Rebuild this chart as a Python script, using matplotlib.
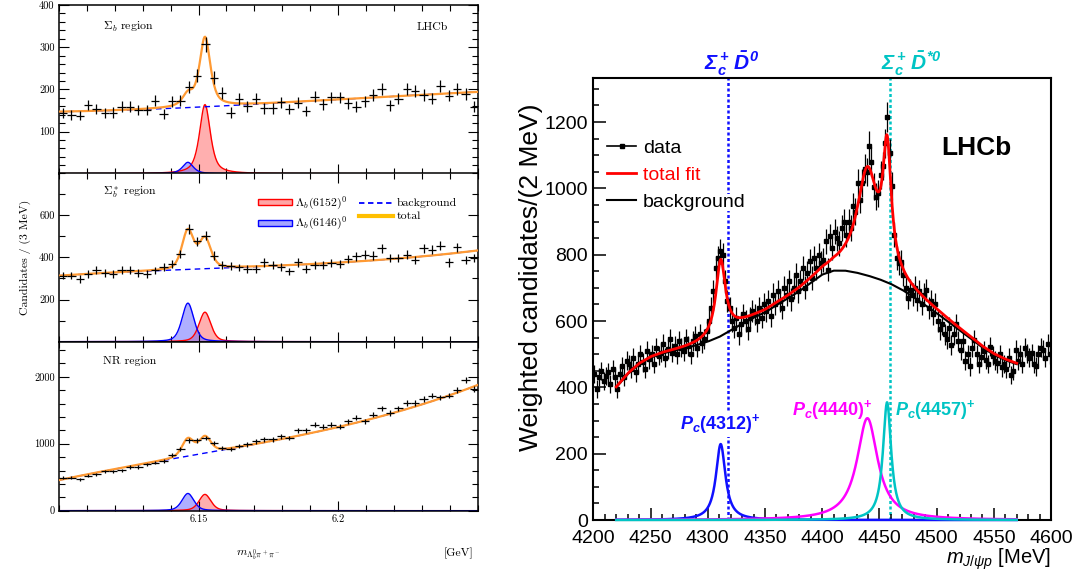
import numpy as np
import matplotlib
matplotlib.use("Agg")
import matplotlib.pyplot as plt
from matplotlib.ticker import MultipleLocator
from matplotlib.lines import Line2D
from matplotlib.patches import Patch
from matplotlib.font_manager import FontProperties

plt.rcParams.update({
    'mathtext.fontset': 'custom',
    'mathtext.rm': 'Liberation Sans',
    'mathtext.it': 'Liberation Sans:italic',
    'mathtext.bf': 'Liberation Sans:bold',
    'mathtext.bfit': 'Liberation Sans:italic:bold',
    'font.family': 'Liberation Sans',
})

# ---------------- left figure data (3 MeV bins, 6.10 - 6.25 GeV) ----------------
sigb_counts = [143, 139, 138, 163, 154, 143, 145, 159, 159, 151, 151, 173, 141, 172, 173,
               205, 232, 307, 228, 192, 145, 177, 160, 178, 155, 155, 170, 153, 168, 149,
               183, 165, 181, 181, 167, 159, 172, 187, 200, 162, 178, 201, 197, 187, 178,
               208, 185, 202, 189, 159]
sigbs_counts = [313, 313, 297, 321, 341, 325, 321, 341, 341, 325, 321, 338, 354, 368, 416,
                535, 476, 503, 408, 365, 357, 352, 346, 344, 376, 362, 354, 333, 376, 346,
                365, 365, 373, 370, 392, 405, 413, 408, 444, 397, 397, 413, 386, 444, 437,
                456, 376, 449, 389, 397]
nr_counts = [490, 490, 470, 520, 545, 589, 589, 604, 653, 653, 693, 718, 743, 827, 926,
             1050, 1050, 1089, 1010, 936, 926, 965, 990, 1035, 1064, 1064, 1109, 1089, 1198, 1198,
             1287, 1257, 1282, 1257, 1337, 1386, 1337, 1431, 1530, 1460, 1530, 1609, 1609, 1668, 1718,
             1693, 1718, 1807, 1950, 1817]

# fit model
bg_anchor_x = [6.10, 6.15, 6.20, 6.25]
sigb_bg = [147, 158, 176, 194]
sigbs_bg = [313, 345, 375, 433]
nr_bg = [455, 842, 1250, 1880]
mass_6146 = 6.1462
mass_6152 = 6.1523
sigb_amp = [27, 164]     # Lambda_b(6146), Lambda_b(6152)
sigbs_amp = [183, 140]
nr_amp = [257, 243]
peak_fwhm = [0.0046, 0.0050, 0.0050]
peak_eta = [0.65, 0.4, 0.4]

# ---------------- right figure data (2 MeV bins, 4200 - 4600 MeV) ----------------
mjp_counts = [
    440, 395, 430, 450, 420, 435, 445, 410, 455, 430,
    395, 440, 465, 430, 480, 470, 455, 490, 445, 470,
    500, 475, 455, 510, 485, 500, 470, 520, 495, 505,
    530, 490, 515, 545, 505, 525, 500, 540, 520, 510,
    545, 525, 500, 540, 555, 520, 560, 535, 545, 570,
    600, 640, 690, 760, 790, 810, 800, 720, 660, 640,
    600, 580, 610, 560, 590, 620, 600, 575, 610, 630,
    620, 600, 640, 610, 650, 630, 660, 615, 680, 650,
    690, 660, 640, 700, 680, 720, 665, 700, 740, 690,
    720, 760, 700, 745, 780, 730, 790, 760, 800, 775,
    785, 840, 755, 855, 820, 870, 850, 835, 880, 900,
    860, 900, 880, 946, 930, 1017, 965, 1017, 1060, 1050,
    1128, 1081, 1005, 975, 986, 1040, 1068, 1136, 1215, 1107,
    1007, 860, 790, 775, 779, 740, 700, 670, 694, 680,
    700, 664, 690, 650, 680, 694, 640, 660, 620, 650,
    600, 575, 590, 560, 545, 580, 528, 560, 590, 540,
    513, 540, 480, 500, 463, 520, 543, 500, 470, 493,
    510, 483, 470, 523, 495, 480, 473, 500, 460, 470,
    455, 490, 437, 450, 513, 480, 500, 470, 520, 503,
    490, 503, 470, 463, 500, 520, 513, 490, 530, 500]
err_scale = 1.3

bgr_x = [4220, 4230, 4240, 4250, 4260, 4270, 4280, 4290, 4300, 4310, 4320, 4330,
         4340, 4350, 4360, 4370, 4380, 4390, 4400, 4410, 4420, 4430, 4440, 4450,
         4460, 4470, 4480, 4490, 4500, 4510, 4520, 4530, 4540, 4550, 4560, 4570]
bgr_y = [400, 440, 470, 490, 502, 510, 518, 527, 538, 552, 572, 592,
         610, 626, 648, 668, 690, 715, 740, 752, 752, 746, 737, 726,
         712, 694, 672, 648, 624, 598, 572, 547, 520, 498, 482, 470]

pc_names = ['4312', '4440', '4457']
pc_mass = [4311.3, 4439.5, 4456.7]
pc_width = [10.0, 22.0, 8.7]
pc_amp = [229, 307, 355]
pc_colors = ['#1010ff', '#ff00ff', '#00c4c4']
thr_mass = [4317.7, 4459.5]

# ---------------- helpers ----------------
def pvoigt(x, m, fwhm, eta):
    L = 1.0 / (1.0 + ((x - m) / (fwhm / 2)) ** 2)
    G = np.exp(-4 * np.log(2) * ((x - m) / fwhm) ** 2)
    return eta * L + (1 - eta) * G

def bw(x, m, g):
    return 1.0 / (1.0 + ((x - m) / (g / 2)) ** 2)

fig = plt.figure(figsize=(10.78, 5.72), dpi=100)

CM = dict(family='cmr10', math_fontfamily='cm')
fs_tick = 7.5
fs_txt = 8.5

lx = np.linspace(6.1015, 6.2485, 50)
xf = np.linspace(6.10, 6.25, 600)
red_fill = '#ff6060'
blue_fill = '#6060ff'
orange = '#ff9a33'

panels = [
    (0.6963, sigb_counts, sigb_bg, sigb_amp, r'$\Sigma_b$ region', (0, 400), [100, 200, 300, 400], 20),
    (0.4026, sigbs_counts, sigbs_bg, sigbs_amp, r'$\Sigma_b^*$ region', (0, 800), [200, 400, 600], 100),
    (0.1072, nr_counts, nr_bg, nr_amp, 'NR region', (0, 2520), [0, 1000, 2000], 200),
]
axes_left = []
for i, (bot, cnts, bga, amps, lab, ylim, yt, ymin) in enumerate(panels):
    ax = fig.add_axes([0.0545, bot, 0.389, 0.2949])
    axes_left.append(ax)
    cnts = np.array(cnts, float)
    coef = np.polyfit(np.array(bg_anchor_x) - 6.175, bga, 3)
    bgc = np.polyval(coef, xf - 6.175)
    s46 = amps[0] * pvoigt(xf, mass_6146, peak_fwhm[i], peak_eta[i])
    s52 = amps[1] * pvoigt(xf, mass_6152, peak_fwhm[i], peak_eta[i])
    ax.fill_between(xf, 0, s52, color=red_fill, alpha=0.5, lw=0, zorder=1)
    ax.fill_between(xf, 0, s46, color=blue_fill, alpha=0.5, lw=0, zorder=1)
    ax.plot(xf, s52, color='red', lw=1.0, zorder=2)
    ax.plot(xf, s46, color='blue', lw=1.0, zorder=2)
    ax.plot(xf, bgc, color='blue', lw=1.0, ls=(0, (4, 3)), zorder=2)
    ax.plot(xf, bgc + s46 + s52, color=orange, lw=1.6, zorder=3)
    ax.errorbar(lx, cnts, yerr=np.sqrt(cnts), xerr=0.0015, fmt='none', ecolor='black',
                elinewidth=0.9, capsize=0, zorder=4)
    ax.set_xlim(6.10, 6.25)
    ax.set_ylim(*ylim)
    ax.set_yticks(yt, labels=[str(v) for v in yt], fontsize=fs_tick, **CM)
    ax.yaxis.set_minor_locator(MultipleLocator(ymin))
    ax.set_xticks([6.15, 6.2])
    ax.xaxis.set_minor_locator(MultipleLocator(0.01))
    if i == 2:
        ax.set_xticklabels(['6.15', '6.2'], fontsize=fs_tick, **CM)
    else:
        ax.set_xticklabels([])
    ax.tick_params(which='both', direction='in', top=True, right=True, width=0.8, pad=3)
    ax.tick_params(which='major', length=7.5)
    ax.tick_params(which='minor', length=4)
    for s in ax.spines.values():
        s.set_linewidth(1.1)
    ax.text(0.105, 0.87 if i == 0 else 0.885, lab, transform=ax.transAxes, fontsize=fs_txt,
            ha='left', va='center', **CM)
    if i == 0:
        ax.text(0.927, 0.87, 'LHCb', transform=ax.transAxes, fontsize=fs_txt,
                ha='right', va='center', **CM)

axm = axes_left[1]
h52 = Patch(facecolor=(1, 0.65, 0.65), edgecolor='red', lw=1.0)
h46 = Patch(facecolor=(0.65, 0.65, 1), edgecolor='blue', lw=1.0)
hbg = Line2D([], [], color='blue', lw=1.3, ls=(0, (3, 2)))
htot = Line2D([], [], color='#ffbf00', lw=3.0)
axm.legend([h52, h46, hbg, htot],
           [r'$\Lambda_b(6152)^0$', r'$\Lambda_b(6146)^0$', 'background', 'total'],
           ncol=2, loc='center left', bbox_to_anchor=(0.475, 0.76), frameon=False,
           borderpad=0, borderaxespad=0, handlelength=2.9, handleheight=0.45,
           handletextpad=0.25, labelspacing=0.3, columnspacing=1.0,
           prop=FontProperties(family='cmr10', size=fs_txt, math_fontfamily='cm'))
axm.set_ylabel('Candidates / (3 MeV)', fontsize=fs_txt, labelpad=6, **CM)
fig.text(258 / 1078, 1 - 555 / 572, r'$m_{\Lambda_b^0\pi^+\pi^-}$', fontsize=fs_txt,
         ha='center', va='center', **CM)
fig.text(473 / 1078, 1 - 553 / 572, '[GeV]', fontsize=fs_txt, ha='right', va='center', **CM)

# ---------------- right panel ----------------
ax = fig.add_axes([0.5504, 0.0909, 0.4246, 0.7722])
mx = 4201 + 2 * np.arange(len(mjp_counts))
cts = np.array(mjp_counts, float)
xr = np.linspace(4220, 4570, 1400)
bgr = np.interp(xr, bgr_x, bgr_y)
comps = [a * bw(xr, m, g) for m, g, a in zip(pc_mass, pc_width, pc_amp)]

for t, c in zip(thr_mass, ['#1010ff', '#00c4c4']):
    ax.axvline(t, color=c, lw=1.8, ls=(0, (1.2, 1.0)), zorder=1)
ax.errorbar(mx, cts, yerr=err_scale * np.sqrt(cts), fmt='s', ms=2.2, color='black',
            ecolor='black', elinewidth=0.9, capsize=0, zorder=3)
ax.plot(xr, bgr, color='black', lw=1.5, zorder=4)
ax.plot(xr, bgr + sum(comps), color='red', lw=2.0, zorder=5)
for comp, c in zip(comps, pc_colors):
    ax.plot(xr, comp, color=c, lw=1.8, zorder=5, clip_on=False)

ax.set_xlim(4200, 4600)
ax.set_ylim(0, 1332)
ax.xaxis.set_major_locator(MultipleLocator(50))
ax.xaxis.set_minor_locator(MultipleLocator(10))
ax.yaxis.set_major_locator(MultipleLocator(200))
ax.yaxis.set_minor_locator(MultipleLocator(50))
ax.tick_params(which='both', direction='in', width=1.1, labelsize=14, pad=4)
ax.tick_params(axis='x', which='both', pad=7.5)
ax.tick_params(which='major', length=9)
ax.tick_params(which='minor', length=4.5)
for s in ax.spines.values():
    s.set_linewidth(1.5)
ax.set_ylabel('Weighted candidates/(2 MeV)', fontsize=19)
ax.yaxis.set_label_coords(-0.11, 0.55)
ax.set_xlabel(r'$m_{J/\psi p}$ [MeV]', fontsize=14.5, loc='right', labelpad=-1)

leg = ax.legend([Line2D([], [], color='black', marker='s', ms=3, lw=1.2),
                 Line2D([], [], color='red', lw=2),
                 Line2D([], [], color='black', lw=1.5)],
                ['data', 'total fit', 'background'], loc='center left',
                bbox_to_anchor=(0.03, 0.781), frameon=False, borderpad=0, borderaxespad=0,
                handlelength=1.5, handletextpad=0.35, labelspacing=0.5, fontsize=14)
leg.set_zorder(10)
for txt, c in zip(leg.get_texts(), ['black', 'red', 'black']):
    txt.set_color(c)
    txt.set_bbox(dict(facecolor='white', edgecolor='none', pad=0))

ax.text(0.836, 0.842, 'LHCb', transform=ax.transAxes, fontsize=19, fontweight='bold',
        ha='center', va='center')

bt = ax.get_xaxis_transform()
ax.text(4320.5, 1.032, r'$\mathbfit{\Sigma_c^+}\,\mathbfit{\bar{D}^0}$', transform=bt,
        color='#1010ff', fontsize=15, ha='center', va='center')
ax.text(4477.6, 1.032, r'$\mathbfit{\Sigma_c^+}\,\mathbfit{\bar{D}^{*0}}$', transform=bt,
        color='#00c4c4', fontsize=15, ha='center', va='center')

lab_pos = [(4311.0, 290), (4408.7, 332), (4499.0, 332)]
for k, (nm, (px, py), c) in enumerate(zip(pc_names, lab_pos, pc_colors)):
    t = ax.text(px, py, r'$\mathbfit{P}_{\mathbfit{c}}\mathbf{(%s)}^{\mathbf{+}}$' % nm, color=c,
                fontsize=13, ha='center', va='center', zorder=6 if k == 0 else 4)
    if k == 0:
        t.set_bbox(dict(facecolor='white', edgecolor='none', pad=0.5))

fig.savefig('out.png', dpi=100)
